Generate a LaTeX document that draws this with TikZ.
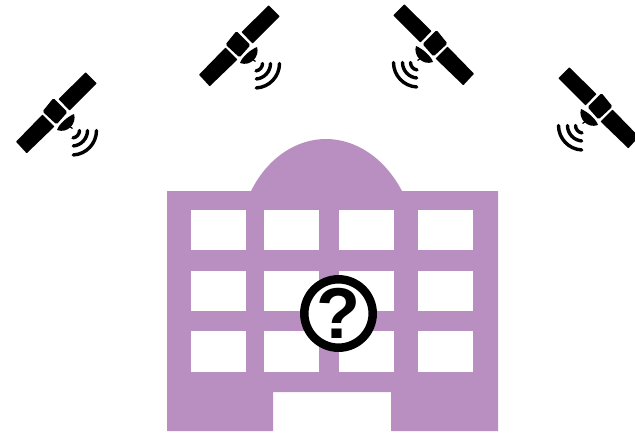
\documentclass[tikz,border=0pt]{standalone}
\usepackage{fontspec}
\newfontfamily\markfont{Liberation Sans}
\definecolor{bldg}{HTML}{B98FC1}
\tikzset{
  pics/satellite/.style={code={
    \fill[black,rounded corners=.5] (-39,28.7) -- (-28.3,40.3) -- (-.5,13.5) -- (-12.5,1.5) -- cycle;
    \fill[black,rounded corners=.5] (30.7,-40.7) -- (41.7,-29.7) -- (14.5,-2.5) -- (3.5,-14) -- cycle;
    \fill[black,rounded corners=1.5] (-12.5,-1.5) -- (-1.5,-15) -- (12.5,-1) -- (1.5,11.5) -- cycle;
    \fill[black] (2,17) .. controls (4,11) and (12,4) .. (19,1) .. controls (22,10) and (13,21) .. cycle;
    \draw[line width=1.2pt] (10,10) -- (17.5,15.5);
    \draw[wave] (24.5,17.5) arc (0:82:7.5);
    \draw[wave] (32.5,17.5) arc (0:85:15.5);
    \draw[wave] (41.5,17.5) arc (0:87:24.5);
  }},
  wave/.style={line width=3.4pt,line cap=round}
}
\begin{document}
\begin{tikzpicture}[x=1pt,y=-1pt,line width=.5pt]
\path[use as bounding box] (0,0) rectangle (635,432);
% satellites
\pic at (55,113) {satellite};
\pic at (238,46) {satellite};
\pic[xscale=-1] at (435,45) {satellite};
\begin{scope}
\clip (0,0) rectangle (635,432);
\pic[xscale=-1] at (600,108) {satellite};
\end{scope}
% building
\fill[bldg] (167,431) -- (167,191) -- (251,191) .. controls (268,157) and (297,139) .. (326,139) .. controls (355,139) and (384,157) .. (402,191) -- (498,191) -- (498,431) -- (391,431) -- (391,392) -- (273,392) -- (273,431) -- cycle;
\foreach \wx in {191,264,339,418}
  \foreach \wy/\wh in {210/40,271/40,331/41}
    \fill[white] (\wx,\wy) rectangle ++(55,\wh);
% question mark
\draw[line width=8.5pt,fill=white] (338.5,313.5) circle (34.2);
\node[inner sep=0pt,font=\markfont\bfseries\fontsize{72}{72}\selectfont] (qmark) at (338.5,313.5) {?};
\end{tikzpicture}
\end{document}
